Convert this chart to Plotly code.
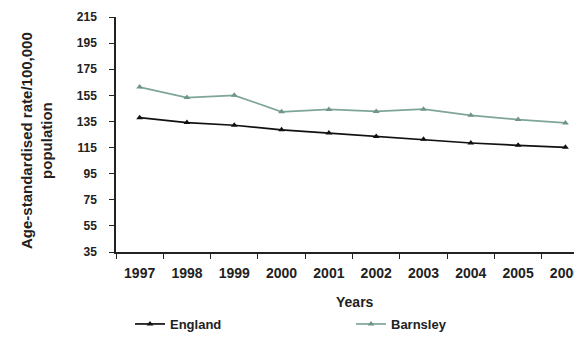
import plotly.graph_objects as go

years = ["1997", "1998", "1999", "2000", "2001", "2002", "2003", "2004", "2005", "2006"]
england = [137.9, 134.1, 132.1, 128.6, 126.1, 123.5, 121.3, 118.5, 116.7, 115.2]
barnsley = [161.3, 153.3, 155.0, 142.4, 144.2, 142.7, 144.4, 139.7, 136.4, 133.9]
y_ticks = [35, 55, 75, 95, 115, 135, 155, 175, 195, 215]

# page offset (body margin) so figure coords = page coords - O
O = 8
W, H = 582 - O, 337 - O
# plot area in page coords: x 116..582(+), y 17..252
L, T = 116 - O, 17 - O
R = 0
B = H - (252 - O)
PW, PH = W - L - R, H - T - B
FAM = "Liberation Sans, Arial, sans-serif"

def f(size):
    return dict(family=FAM, size=size, color="#222222", weight="bold")

def px(xp):
    return (xp - O - L) / PW

def py(yp):
    return (H - B - (yp - O)) / PH

fig = go.Figure()
fig.add_trace(go.Scatter(
    x=years, y=england, name="England", mode="lines+markers",
    line=dict(color="#111111", width=1.7),
    marker=dict(symbol="triangle-up", size=6, color="#111111"),
))
fig.add_trace(go.Scatter(
    x=years, y=barnsley, name="Barnsley", mode="lines+markers",
    line=dict(color="#7fa59b", width=1.7),
    marker=dict(symbol="triangle-up", size=6, color="#6f958b"),
))

fig.update_layout(
    width=W, height=H,
    margin=dict(l=L, r=R, t=T, b=B, pad=0, autoexpand=False),
    paper_bgcolor="white", plot_bgcolor="white",
    font=f(12),
    showlegend=True,
    legend=dict(
        orientation="h", x=px(130), xanchor="left",
        y=py(324), yanchor="middle",
        entrywidth=176, entrywidthmode="pixels",
        font=f(13), itemwidth=30, tracegroupgap=0,
        bgcolor="rgba(0,0,0,0)",
    ),
    xaxis=dict(
        type="category", range=[-0.5, 9.35], automargin=False,
        showline=True, linecolor="#222222", linewidth=1.5,
        ticks="outside", tickson="boundaries", ticklen=5, tickcolor="#222222",
        ticklabelstandoff=7,
        showgrid=False, zeroline=False,
        tickfont=f(14),
    ),
    yaxis=dict(
        range=[35, 215], tickvals=y_ticks, automargin=False,
        showline=True, linecolor="#222222", linewidth=1.5,
        ticks="outside", ticklen=5, tickcolor="#222222",
        ticklabelstandoff=10,
        showgrid=False, zeroline=False,
        tickfont=f(12),
    ),
    annotations=[
        dict(
            text="Age-standardised rate/100,000<br>population",
            textangle=-90, xref="paper", yref="paper",
            x=px(36), y=py(141), xanchor="center", yanchor="middle",
            showarrow=False, font=f(15),
        ),
        dict(
            text="Years", xref="paper", yref="paper",
            x=px(355), y=py(302), xanchor="center", yanchor="middle",
            showarrow=False, font=f(14),
        ),
    ],
)

fig.write_html("out.html")
